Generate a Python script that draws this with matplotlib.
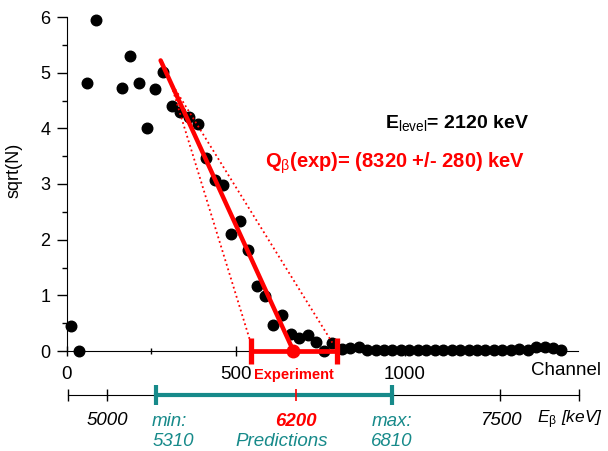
import matplotlib
matplotlib.use("Agg")
import matplotlib.pyplot as plt
from matplotlib.ticker import FixedLocator

plt.rcParams['font.family'] = ['Liberation Sans', 'DejaVu Sans']
plt.rcParams['mathtext.fontset'] = 'custom'
plt.rcParams['mathtext.rm'] = 'Liberation Sans'
plt.rcParams['mathtext.it'] = 'Liberation Sans:italic'
plt.rcParams['mathtext.bf'] = 'Liberation Sans:bold'

# measured spectrum: channel vs sqrt(N)
channel = [11, 35, 60, 86, 162, 187, 212, 236, 260, 285, 311, 334, 362, 388,
           411, 438, 462, 485, 512, 536, 561, 586, 610, 636, 662, 687, 712,
           737, 761, 783,
           813, 838, 863, 888, 913, 938, 963, 988, 1013, 1038, 1063, 1088,
           1113, 1138, 1163, 1188, 1213, 1238, 1263, 1288, 1313, 1338, 1363,
           1388, 1413, 1438, 1463]
sqrt_n = [0.45, 0.0, 4.82, 5.95, 4.73, 5.30, 4.82, 4.00, 4.70, 5.02, 4.40,
          4.29, 4.21, 4.08, 3.46, 3.08, 2.99, 2.10, 2.34, 1.81, 1.16, 0.98,
          0.46, 0.64, 0.30, 0.24, 0.29, 0.17, 0.0, 0.15,
          0.03, 0.06, 0.07, 0.02, 0.01, 0.02, 0.01, 0.02, 0.01, 0.02, 0.01,
          0.01, 0.02, 0.01, 0.02, 0.01, 0.02, 0.01, 0.02, 0.01, 0.02, 0.03,
          0.02, 0.07, 0.08, 0.05, 0.01]

# linear fit and its limits (channel, sqrt(N))
fit_ch = [277, 670]
fit_y = [5.22, 0.0]
fit_lo_ch = [305, 541]
fit_lo_y = [4.85, 0.20]
fit_hi_ch = [305, 785]
fit_hi_y = [4.85, 0.15]

# experimental endpoint in channels
exp_center = 670
exp_low = 543
exp_high = 798

# energy scale (keV)
energy_lim = [4750, 8000]
energy_ticks = [4750, 5000, 7500, 8000]
energy_labels = ['', '5000', '7500', '']
pred_min = 5310
pred_center = 6200
pred_max = 6810

red = '#ff0000'
teal = '#178a8a'

fig = plt.figure(figsize=(6.08, 4.51), dpi=100)
ax = fig.add_axes([67 / 608, 1 - 351 / 451, 511 / 608, 334 / 451])

ax.plot(channel, sqrt_n, 'o', color='black', ms=7.6, clip_on=False, zorder=3)
ax.plot(fit_ch, fit_y, color=red, lw=3.2, solid_capstyle='round', zorder=4)
ax.plot(fit_lo_ch, fit_lo_y, color=red, lw=1.3, ls=':', zorder=4)
ax.plot(fit_hi_ch, fit_hi_y, color=red, lw=1.3, ls=':', zorder=4)

ax.plot([exp_low, exp_high], [0, 0], color=red, lw=3.4, clip_on=False, zorder=5)
ax.plot([exp_low, exp_high], [0, 0], ls='none', marker='|', ms=19, mew=3.8,
        color=red, clip_on=False, zorder=5)
ax.plot([exp_center], [0], 'o', color=red, ms=9, clip_on=False, zorder=6)
ax.text(exp_center, -0.43, 'Experiment', color=red, fontsize=10.5,
        fontweight='bold', ha='center', va='center')

ax.text(941, 4.10, r'E$_{\mathrm{level}}$= 2120 keV', fontsize=14,
        fontweight='bold', va='center', ha='left')
ax.text(586, 3.38, r'Q$_{\mathrm{β}}$(exp)= (8320 +/- 280) keV',
        fontsize=14.5, fontweight='bold', color=red, va='center', ha='left')

ax.set_xlim(0, 1512)
ax.set_ylim(0, 6)
ax.spines['top'].set_visible(False)
ax.spines['right'].set_visible(False)
ax.xaxis.set_major_locator(FixedLocator([0, 500, 1000]))
ax.xaxis.set_minor_locator(FixedLocator([250, 750, 1250]))
ax.yaxis.set_major_locator(FixedLocator([0, 1, 2, 3, 4, 5, 6]))
ax.yaxis.set_minor_locator(FixedLocator([0.5, 1.5, 2.5, 3.5, 4.5, 5.5]))
ax.tick_params(axis='y', which='major', direction='out', length=7, width=1,
               labelsize=13, pad=5)
ax.tick_params(axis='y', which='minor', direction='out', length=3.5, width=1)
ax.tick_params(axis='x', which='major', direction='inout', length=7, width=1,
               labelsize=13.5, pad=7.5)
ax.tick_params(axis='x', which='minor', direction='inout', length=4, width=1)
ax.set_xlabel('Channel', fontsize=13.5)
ax.xaxis.set_label_coords(0.977, -0.032)
ax.set_ylabel('sqrt(N)', fontsize=13)
ax.yaxis.set_label_coords(-0.088, 0.54)

# energy axis below
ax2 = fig.add_axes([68 / 608, 0, 511 / 608, 70 / 451])
ax2.set_xlim(*energy_lim)
ax2.set_ylim(-56, 14)
ax2.patch.set_visible(False)
for side in ['top', 'right', 'left']:
    ax2.spines[side].set_visible(False)
ax2.spines['bottom'].set_position(('data', 0))
ax2.set_yticks([])
ax2.set_xticks(energy_ticks)
ax2.set_xticklabels(energy_labels, fontstyle='italic')
ax2.tick_params(axis='x', direction='inout', length=8, width=1,
                labelsize=13.5, pad=8.5)

ax2.plot([pred_min, pred_max], [0, 0], color=teal, lw=3, zorder=3)
ax2.plot([pred_min, pred_max], [0, 0], ls='none', marker='|', ms=14, mew=3,
         color=teal, zorder=3)
ax2.plot([pred_center], [0], ls='none', marker='|', ms=8, mew=1.2, color=red,
         zorder=4)

fs = 13.5
ax2.text(pred_min - 25, -26, 'min:', color=teal, fontsize=fs,
         fontstyle='italic', ha='left', va='center')
ax2.text(pred_min - 25, -46, str(pred_min), color=teal, fontsize=fs,
         fontstyle='italic', ha='left', va='center')
ax2.text(pred_center, -26, str(pred_center), color=red, fontsize=fs,
         fontstyle='italic', fontweight='bold', ha='center', va='center')
ax2.text(pred_center - 90, -46, 'Predictions', color=teal, fontsize=fs,
         fontstyle='italic', ha='center', va='center')
ax2.text(pred_max, -26, 'max:', color=teal, fontsize=fs,
         fontstyle='italic', ha='center', va='center')
ax2.text(pred_max, -46, str(pred_max), color=teal, fontsize=fs,
         fontstyle='italic', ha='center', va='center')
ax2.text(7735, -25, r'E$_{\mathrm{β}}$ [keV]', fontsize=12.5,
         fontstyle='italic', ha='left', va='center')

fig.savefig('out.png', dpi=100)
